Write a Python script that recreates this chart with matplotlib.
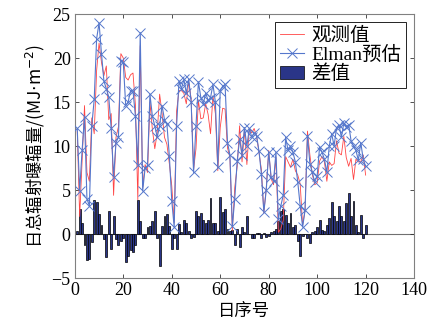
import numpy as np
import matplotlib
matplotlib.use('Agg')
import matplotlib.pyplot as plt

# day index
days = np.arange(1, 121)

# Elman prediction (MJ/m2)
pred = [12.0, 4.9, 9.5, 13.3, 4.0, 3.2, 12.3, 15.3, 22.2, 24.0,
        20.5, 17.4, 16.5, 15.6, 12.0, 6.5, 10.4, 11.0, 19.7, 19.5,
        14.6, 15.0, 16.3, 16.3, 13.4, 7.8, 22.9, 4.9, 7.5, 7.8,
        15.9, 13.4, 12.3, 11.0, 12.3, 14.6, 13.0, 12.5, 8.9, 3.8,
        0.8, 12.3, 17.4, 16.5, 17.6, 16.0, 17.6, 15.0, 7.0, 12.3,
        17.3, 15.5, 14.8, 16.0, 15.2, 15.5, 17.0, 15.0, 7.6, 16.3,
        16.8, 17.0, 10.4, 9.0, 0.9, 4.0, 8.3, 10.8, 9.0, 12.1,
        10.0, 12.0, 11.0, 11.5, 11.2, 9.4, 6.8, 2.5, 5.0, 9.3,
        6.5, 6.0, 9.3, 1.7, 3.2, 4.4, 11.0, 9.5, 10.0, 9.3,
        8.2, 5.9, 3.2, 0.8, 2.7, 11.2, 8.0, 7.0, 5.9, 6.6,
        9.9, 9.3, 8.5, 7.0, 10.0, 11.4, 10.0, 12.1, 12.4, 11.0,
        12.6, 12.2, 12.4, 10.6, 10.0, 9.5, 8.4, 10.4, 8.5, 7.7]

# observed values
obs = [11.7, 2.0, 8.3, 14.6, 7.0, 6.0, 13.2, 11.4, 18.6, 21.7,
       19.5, 18.0, 19.1, 13.0, 13.7, 4.4, 11.0, 12.2, 20.5, 20.0,
       17.8, 17.5, 18.1, 18.3, 14.7, 3.9, 21.4, 5.3, 7.9, 7.0,
       15.0, 11.9, 9.7, 11.5, 15.9, 13.7, 11.0, 10.2, 8.0, 5.5,
       1.3, 14.0, 16.3, 16.3, 16.0, 14.8, 17.3, 15.4, 7.3, 9.7,
       15.2, 13.1, 13.2, 14.8, 13.6, 11.4, 15.7, 13.7, 7.2, 12.1,
       14.3, 14.2, 9.8, 8.7, 0.4, 5.3, 7.7, 12.3, 8.2, 11.9,
       7.9, 12.0, 11.5, 12.0, 11.1, 9.3, 7.3, 2.4, 5.3, 9.5,
       6.3, 5.6, 8.7, 0.2, 0.6, 1.6, 8.8, 8.2, 7.6, 8.5,
       7.2, 6.7, 5.7, 1.0, 2.7, 11.7, 9.0, 6.8, 5.6, 5.8,
       8.3, 8.8, 8.2, 6.0, 8.2, 7.8, 8.0, 10.6, 9.2, 9.0,
       11.1, 8.7, 7.7, 8.6, 6.2, 8.5, 8.2, 8.2, 9.0, 6.7]

# difference (prediction - observation)
diff = [0.3, 2.9, 1.2, -1.3, -3.0, -2.8, -0.9, 3.9, 3.6, 2.3,
        1.0, -0.6, -2.6, 2.6, -1.7, 2.1, -0.6, -1.2, -0.8, -0.5,
        -3.2, -2.5, -1.8, -2.0, -1.3, 3.9, 1.5, -0.4, -0.4, 0.8,
        0.9, 1.5, 2.6, -0.5, -3.6, 0.9, 2.0, 2.3, 0.9, -1.7,
        -0.5, -1.7, 1.1, 0.2, 1.6, 1.2, 0.3, -0.4, -0.3, 2.6,
        2.1, 2.4, 1.6, 1.2, 1.6, 4.1, 1.3, 1.3, 0.4, 4.2,
        2.5, 2.8, 0.6, 0.3, 0.5, -1.3, 0.6, -1.5, 0.8, 0.2,
        2.1, 0.0, -0.5, -0.5, 0.1, 0.1, -0.5, 0.1, -0.3, -0.2,
        0.2, 0.4, 0.6, 1.5, 2.6, 2.8, 2.2, 1.3, 2.4, 0.8,
        1.0, -0.8, -2.5, -0.2, 0.0, -0.5, -1.0, 0.2, 0.3, 0.8,
        1.6, 0.5, 0.3, 1.0, 1.8, 3.6, 2.0, 1.5, 3.2, 2.0,
        1.5, 3.5, 4.7, 2.0, 3.8, 1.0, 0.2, 2.2, -0.5, 1.0]

xticks = [0, 20, 40, 60, 80, 100, 120, 140]
yticks = [-5, 0, 5, 10, 15, 20, 25]

serif = ['Liberation Serif', 'Noto Sans CJK SC']
cjk = ['Noto Sans CJK SC', 'DejaVu Sans']

fig = plt.figure(figsize=(4.3, 3.35), dpi=100)
ax = fig.add_axes([0.174, 0.170, 0.789, 0.788])

ax.axhline(0, color='#707070', lw=0.8, zorder=1)
ax.plot(days, obs, color='#ff4444', lw=0.6, label='观测值', zorder=3)
ax.plot(days, pred, color='#5577cc', lw=0.8, marker='x', ms=6.5, mew=0.7,
        label='Elman预估', zorder=4)
ax.bar(days, diff, width=0.8, color='#2a3588', edgecolor='black', lw=0.5,
       label='差值', zorder=2)

ax.set_xlim(0, 140)
ax.set_ylim(-5, 25)
ax.set_xticks(xticks)
ax.set_yticks(yticks)
ax.set_xticklabels([str(t) for t in xticks], family=serif, fontsize=13)
ax.set_yticklabels([str(t).replace('-', '\u2212') for t in yticks], family=serif, fontsize=13)
ax.tick_params(direction='in', length=3, width=0.6, colors='#333333',
               top=True, right=True, labelcolor='black', pad=3)
for s in ax.spines.values():
    s.set_color('#808080')
    s.set_linewidth(0.8)

ax.set_xlabel('日序号', family=cjk, fontsize=12.5, labelpad=2)
ax.set_ylabel('日总辐射曝辐量/(MJ$\\cdot$m$^{-2}$)', family=cjk, fontsize=12.5, labelpad=3)

leg = ax.legend(loc='upper right', prop={'family': serif, 'size': 14},
                fancybox=False, edgecolor='black', framealpha=1,
                handlelength=1.2, handletextpad=0.4, borderpad=0.25,
                labelspacing=0.05, borderaxespad=0.4)
leg.get_frame().set_linewidth(0.6)

plt.savefig('out.png', dpi=100)
